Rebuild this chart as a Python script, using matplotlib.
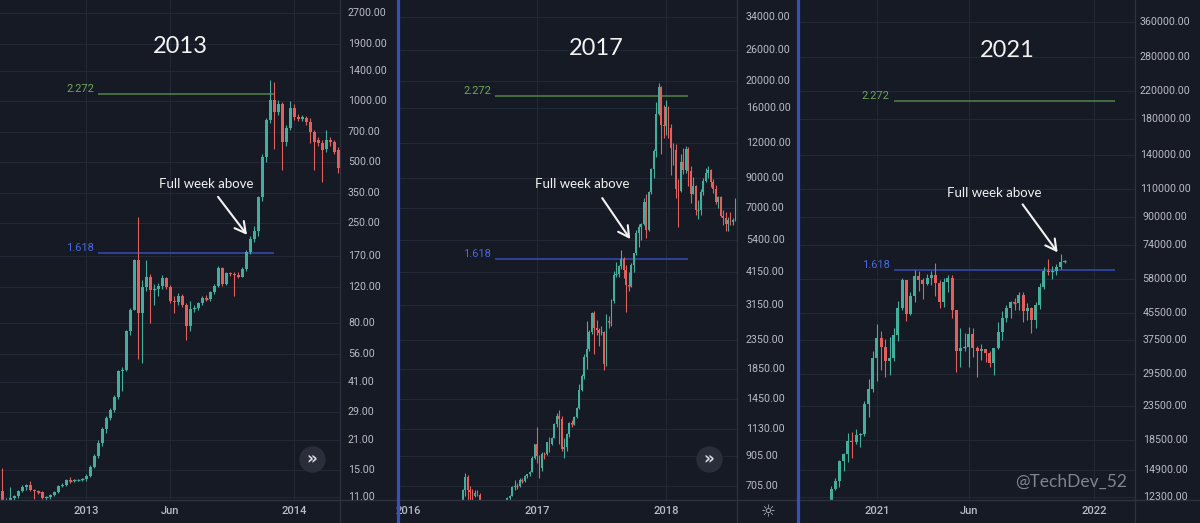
import numpy as np
import pandas as pd
import matplotlib
matplotlib.use("Agg")
import matplotlib.pyplot as plt
import matplotlib.dates as mdates
import matplotlib.transforms as mtransforms
from matplotlib.lines import Line2D

# ------------------------------------------------------------------ DATA
# Panel 1 : weekly candles, first week 2012-08-13
p1_start = "2012-08-13"
p1_open = [11.8, 10.2, 10.6, 10.9, 11.1, 11.8, 12.4, 12.6, 12.0, 11.8,
           11.7, 10.9, 11.0, 11.3, 11.7, 12.5, 12.7, 13.4, 13.3, 13.4,
           13.45, 13.5, 14.0, 15.6, 17.6, 20.5, 23.8, 27.0, 29.7, 34.4,
           46.0, 47.0, 72.5, 93.0, 163, 89, 120, 135, 116, 117,
           122, 133, 120, 103, 101, 109, 98, 77, 94, 95,
           100, 106, 105, 113, 122, 149, 125, 141, 139, 137,
           135, 148, 179, 207, 226, 334, 527, 803, 1008, 880,
           960, 625, 733, 915, 831, 810, 825, 785, 700, 640,
           620, 580, 640, 625, 571]
p1_high = [15.4, 10.9, 12.3, 11.3, 12.0, 12.6, 12.8, 13.2, 12.1, 12.0,
           11.8, 11.2, 11.4, 11.8, 12.6, 12.9, 13.5, 13.9, 13.5, 13.6,
           13.7, 14.3, 15.9, 18.0, 21.0, 24.5, 27.6, 30.5, 35.0, 47.0,
           48.5, 74.0, 95.0, 165, 266, 130, 163, 140, 125, 126,
           137, 134, 123, 108, 112, 111, 100, 102, 98, 101,
           108, 110, 115, 124, 152, 151, 143, 143, 143, 142,
           150, 182, 215, 240, 340, 545, 820, 1265, 1240, 1010,
           980, 760, 1000, 960, 860, 850, 840, 820, 715, 660,
           640, 720, 660, 640, 590]
p1_low = [7.1, 9.6, 10.5, 10.6, 10.9, 11.7, 12.0, 11.8, 10.8, 11.4,
          10.8, 10.7, 10.8, 11.1, 11.6, 12.3, 12.5, 12.9, 13.1, 13.2,
          13.2, 13.3, 13.9, 15.4, 17.2, 19.8, 22.8, 26.5, 29.0, 33.5,
          37.0, 46.0, 70.0, 92.0, 53.0, 50.6, 115, 80, 98, 108,
          118, 118, 100, 89, 98, 96, 65.8, 73, 90, 93,
          98, 103, 103, 111, 120, 122, 123, 136, 109, 133,
          134, 144, 175, 200, 215, 320, 500, 780, 580, 850,
          455, 600, 720, 800, 790, 790, 760, 620, 455, 600,
          397, 560, 600, 545, 440]
p1_close = [10.2, 10.6, 10.9, 11.1, 11.8, 12.4, 12.6, 12.0, 11.8, 11.7,
            10.9, 11.0, 11.3, 11.7, 12.5, 12.7, 13.4, 13.3, 13.4, 13.45,
            13.5, 14.0, 15.6, 17.6, 20.5, 23.8, 27.0, 29.7, 34.4, 46.0,
            47.0, 72.5, 93.0, 163, 89, 120, 135, 116, 117, 122,
            133, 120, 103, 101, 109, 98, 77, 94, 95, 100,
            106, 105, 113, 122, 149, 125, 141, 139, 137, 135,
            148, 178, 207, 226, 334, 527, 803, 1008, 880, 960,
            625, 733, 915, 831, 810, 830, 785, 700, 625, 620,
            571, 640, 625, 560, 465]
p1_yticks = [2700, 1900, 1400, 1000, 700, 500, 350, 250, 170, 120, 80, 56, 41, 29, 21, 15, 11]
p1_xtick_dates = ["2013-01-07", "2013-06-03", "2014-01-06"]
p1_xtick_labels = ["2013", "Jun", "2014"]
p1_fib_levels = [1079, 177.5]
p1_fib_span = ["2013-01-28", "2013-12-02"]
p1_marked_week = "2013-10-21"
p1_title = "2013"

# Panel 2 : weekly candles, first week 2016-06-06
p2_start = "2016-06-06"
p2_open = [575, 680, 760, 680, 670, 650, 665, 655, 625, 590,
           585, 580, 573, 607, 608, 607, 600, 612, 617, 640,
           650, 700, 705, 703, 740, 735, 765, 775, 790, 890,
           995, 900, 820, 920, 915, 1010, 1000, 1050, 1180, 1260,
           1230, 960, 970, 1080, 1190, 1180, 1250, 1340, 1560, 1750,
           2050, 2190, 2520, 2950, 2600, 2550, 2500, 2510, 1930, 2750,
           2730, 3260, 4050, 4080, 4350, 4600, 4220, 3700, 3680, 4400,
           4820, 5710, 6000, 6150, 7370, 5850, 8000, 9700, 11250, 15250,
           19100, 14000, 13800, 16200, 13600, 11500, 11300, 8200, 8100, 10300,
           9600, 11400, 9500, 7900, 8400, 6900, 6920, 8000, 8800, 9400,
           9600, 8700, 8250, 7350, 7700, 6550, 6450, 6150, 6350, 6250, 6350]
p2_high = [690, 785, 770, 705, 690, 680, 680, 665, 630, 600,
           595, 590, 615, 630, 612, 610, 614, 620, 642, 655,
           705, 740, 725, 750, 750, 770, 780, 795, 900, 1000,
           1150, 910, 930, 930, 1015, 1060, 1060, 1190, 1290, 1320,
           1260, 1050, 1090, 1200, 1220, 1260, 1350, 1640, 1780, 2100,
           2760, 2570, 2980, 2990, 2770, 2600, 2650, 2540, 2930, 2870,
           3300, 4180, 4480, 4390, 4980, 4700, 4400, 4120, 4470, 4830,
           5850, 6150, 6200, 7600, 7900, 8100, 9750, 11400, 16900, 19700,
           19300, 16500, 17200, 16300, 14100, 12000, 11900, 8900, 11000, 11500,
           11700, 11600, 9900, 9100, 8500, 7500, 8200, 9000, 9750, 9960,
           9700, 8900, 8500, 7750, 7750, 6900, 6800, 6500, 6800, 6450, 7600]
p2_low = [570, 650, 550, 620, 630, 645, 650, 615, 480, 575,
          565, 565, 568, 600, 600, 590, 596, 606, 612, 627,
          648, 680, 690, 700, 725, 728, 755, 765, 788, 880,
          850, 750, 800, 880, 910, 930, 990, 1045, 1150, 1000,
          940, 890, 940, 1060, 1150, 1170, 1240, 1330, 1550, 1710,
          1850, 2150, 2480, 2100, 2450, 2250, 2460, 1840, 1900, 2600,
          2650, 3210, 3980, 3980, 4250, 3950, 2970, 3520, 3650, 4150,
          4760, 5100, 5400, 6100, 5500, 5800, 7900, 9000, 10700, 15100,
          11000, 12500, 12800, 12500, 9200, 10000, 7600, 6000, 8000, 9300,
          9400, 8400, 7300, 7900, 6600, 6400, 6600, 7800, 8700, 9000,
          8350, 7950, 7250, 7050, 6500, 6100, 5800, 5800, 6100, 6100, 6300]
p2_close = [680, 760, 680, 670, 650, 665, 655, 625, 590, 585,
            580, 573, 607, 608, 607, 600, 612, 617, 640, 650,
            700, 705, 703, 740, 735, 765, 775, 790, 890, 995,
            900, 820, 920, 915, 1010, 1000, 1050, 1180, 1260, 1230,
            960, 970, 1080, 1190, 1180, 1250, 1340, 1560, 1750, 2050,
            2190, 2520, 2950, 2600, 2550, 2500, 2510, 1930, 2750, 2730,
            3260, 4050, 4080, 4350, 4600, 4220, 3700, 3680, 4400, 4820,
            5710, 6000, 6150, 7370, 5850, 8000, 9700, 11250, 15250, 19100,
            14000, 13800, 16200, 13600, 11500, 11300, 8200, 8100, 10300, 9600,
            11400, 9500, 7900, 8400, 6900, 6920, 8000, 8800, 9400, 9600,
            8700, 8250, 7350, 7700, 6550, 6450, 6150, 6350, 6250, 6350, 7400]
p2_yticks = [34000, 26000, 20000, 16000, 12000, 9000, 7000, 5400, 4150, 3150,
             2350, 1850, 1450, 1130, 905, 705]
p2_xtick_dates = ["2016-01-04", "2017-01-02", "2018-01-01"]
p2_xtick_labels = ["2016", "2017", "2018"]
p2_fib_levels = [17780, 4617]
p2_fib_span = ["2016-09-05", "2018-03-05"]
p2_marked_week = "2017-10-09"
p2_title = "2017"

# Panel 3 : weekly candles, first week 2020-10-19
p3_start = "2020-10-19"
p3_open = [11500, 13030, 13760, 15960, 16700, 18400, 18180, 19150, 19270, 23800,
           26500, 33000, 38150, 35800, 32300, 33100, 38800, 47100, 57400, 45200,
           51200, 59000, 57500, 55800, 58200, 59800, 56200, 49100, 56600, 58200,
           46400, 34700, 35600, 35800, 39100, 35500, 34700, 35300, 34250, 31800,
           35400, 39850, 43800, 47100, 49200, 48800, 51800, 46000, 47300, 43200,
           48200, 54700, 61500, 60900, 61300, 63300, 65500]
p3_high = [13350, 14100, 15970, 16800, 19400, 19500, 19900, 19400, 24300, 28400,
           34800, 41950, 40100, 37850, 38500, 40950, 49700, 58300, 57500, 52650,
           61800, 61200, 58400, 60000, 61200, 64850, 57500, 58400, 59600, 59500,
           46600, 40800, 39500, 41300, 41000, 36000, 36600, 35300, 34800, 35500,
           42600, 46000, 48100, 49400, 50500, 52900, 52900, 48850, 47400, 49200,
           56500, 62900, 67000, 63700, 64300, 69000, 66200]
p3_low = [11400, 12950, 13200, 14800, 15800, 16200, 18000, 17600, 19000, 21800,
          26000, 28100, 30300, 28850, 29200, 32300, 37400, 46600, 43000, 44900,
          49300, 53300, 50400, 55500, 55500, 51500, 47000, 47400, 52900, 43800,
          30000, 31100, 34800, 31000, 33300, 28800, 32700, 32100, 31000, 29300,
          35250, 37600, 42800, 43900, 46500, 46500, 42800, 43300, 39600, 40800,
          46900, 53900, 59800, 58000, 59400, 62300, 65000]
p3_close = [13030, 13760, 15960, 16700, 18400, 18180, 19150, 19270, 23800, 26500,
            33000, 38150, 35800, 32300, 33100, 38800, 47100, 57400, 45200, 51200,
            59000, 57500, 55800, 58200, 59800, 56200, 49100, 56600, 58200, 46400,
            34700, 35600, 35800, 39100, 35500, 34700, 35300, 34250, 31800, 35400,
            39850, 43800, 47100, 49200, 48800, 51800, 46000, 47300, 43200, 48200,
            54700, 61500, 60900, 61300, 63300, 65500, 65700]
p3_yticks = [360000, 280000, 220000, 180000, 140000, 110000, 90000, 74000, 58000,
             45500, 37500, 29500, 23500, 18500, 14900, 12300]
p3_xtick_dates = ["2021-01-04", "2021-06-07", "2022-01-03"]
p3_xtick_labels = ["2021", "Jun", "2022"]
p3_fib_levels = [205400, 61760]
p3_fib_span = ["2021-02-01", "2022-02-07"]
p3_marked_week = "2021-11-08"
p3_title = "2021"

fib_labels = ["2.272", "1.618"]
note_text = "Full week above"
watermark = "@TechDev_52"

# ------------------------------------------------------------------ STYLE
BG = "#161a25"
GRID = "#232836"
BORDER = "#2e3240"
UP = "#45ad9c"
DOWN = "#e35f5b"
AXTXT = "#b9bcc5"
SEP = "#3651bd"
FIB_LINE = ["#4e7c45", "#3447ad"]
FIB_TXT = ["#6fa758", "#4b67de"]

W, H = 1200, 523
PLOT_H = 500  # pixel height of the chart area (time axis strip below)

fig = plt.figure(figsize=(W / 100, H / 100), dpi=100)
fig.patch.set_facecolor(BG)

panels = [
    dict(start=p1_start, o=p1_open, h=p1_high, l=p1_low, c=p1_close,
         yticks=p1_yticks, xt=p1_xtick_dates, xl=p1_xtick_labels, xgrid=p1_xtick_dates,
         fib=p1_fib_levels, span=p1_fib_span, mark=p1_marked_week, title=p1_title,
         left=0, right=397, plot_right=340, origin="2013-01-07", origin_px=86,
         px_week=208 / 52, ylim=(10 ** 1.0279, 10 ** 3.4971), body_px=3.0,
         ylab_px=348, ylab_ha="left", title_px=(180, 53),
         tip=(-3, 1), tail=(-29, 38), note=(-41, 47), button=(312, 459)),
    dict(start=p2_start, o=p2_open, h=p2_high, l=p2_low, c=p2_close,
         yticks=p2_yticks, xt=p2_xtick_dates, xl=p2_xtick_labels, xgrid=p2_xtick_dates[1:],
         fib=p2_fib_levels, span=p2_fib_span, mark=p2_marked_week, title=p2_title,
         left=400, right=797, plot_right=737, origin="2017-01-02", origin_px=537,
         px_week=129 / 52, ylim=(10 ** 2.7976, 10 ** 4.5936), body_px=1.8,
         ylab_px=746, ylab_ha="left", title_px=(596, 55),
         tip=(-6, -9), tail=(-28, 41), note=(-48, 51), button=(709, 459)),
    dict(start=p3_start, o=p3_open, h=p3_high, l=p3_low, c=p3_close,
         yticks=p3_yticks, xt=p3_xtick_dates, xl=p3_xtick_labels, xgrid=p3_xtick_dates,
         fib=p3_fib_levels, span=p3_fib_span, mark=p3_marked_week, title=p3_title,
         left=800, right=1200, plot_right=1135, origin="2021-01-04", origin_px=877,
         px_week=217 / 52, ylim=(10 ** 4.0814, 10 ** 5.6232), body_px=3.0,
         ylab_px=1165, ylab_ha="center", title_px=(1007, 57),
         tip=(-3, 2), tail=(-35, 48), note=(-63, 55), button=None),
]

axes = []
for P in panels:
    width_px = P["right"] - P["left"]
    ax = fig.add_axes([P["left"] / W, (H - PLOT_H) / H, width_px / W, PLOT_H / H])
    axes.append(ax)
    ax.set_facecolor(BG)
    ax.set_yscale("log")
    for s in ax.spines.values():
        s.set_visible(False)

    ppd = P["px_week"] / 7.0
    o_num = mdates.date2num(np.datetime64(P["origin"]))
    ax.set_xlim(o_num + (P["left"] - P["origin_px"]) / ppd,
                o_num + (P["right"] - P["origin_px"]) / ppd)
    ax.set_ylim(*P["ylim"])
    plot_frac = (P["plot_right"] - P["left"]) / width_px

    # grid
    for v in P["yticks"]:
        ax.axhline(v, xmin=0, xmax=plot_frac, color=GRID, lw=0.8, zorder=0)
    for d in P["xgrid"]:
        ax.axvline(mdates.date2num(np.datetime64(d)), color=GRID, lw=0.8, zorder=0)

    # candles
    o = np.asarray(P["o"], float); h = np.asarray(P["h"], float)
    l = np.asarray(P["l"], float); c = np.asarray(P["c"], float)
    dates = pd.date_range(P["start"], periods=len(c), freq="7D")
    x = mdates.date2num(dates.values)
    col = np.where(c >= o, UP, DOWN)
    ax.vlines(x, l, h, colors=col, lw=0.8, zorder=3)
    bw = P["body_px"] / ppd
    lo = np.minimum(o, c); hi = np.maximum(o, c)
    ax.bar(x, hi - lo, bottom=lo, width=bw, color=col, lw=0, zorder=4)
    thin = np.log10(hi / lo) * PLOT_H / np.log10(P["ylim"][1] / P["ylim"][0]) < 1.2
    ax.hlines(c[thin], x[thin] - bw / 2, x[thin] + bw / 2, colors=col[thin], lw=1.0, zorder=4)

    # price scale
    ax.plot([plot_frac, plot_frac], [-(H - PLOT_H) / PLOT_H, 1], transform=ax.transAxes,
            color=BORDER, lw=0.9, clip_on=False, zorder=5)
    ax.plot([0, 1], [0, 0], transform=ax.transAxes, color=BORDER, lw=1.0,
            clip_on=False, zorder=5)
    bt = mtransforms.blended_transform_factory(ax.transAxes, ax.transData)
    lx = (P["ylab_px"] - P["left"]) / width_px
    for v in P["yticks"]:
        ax.text(lx, v, f"{v:.2f}", transform=bt, ha=P["ylab_ha"], va="center",
                fontsize=7.7, family="Roboto", color=AXTXT, clip_on=True, zorder=6)

    # time scale
    ax.set_yticks([]); ax.set_yticks([], minor=True)
    ax.set_xticks(mdates.date2num(pd.to_datetime(P["xt"]).values))
    ax.set_xticklabels(P["xl"], fontsize=8, family="Roboto", color=AXTXT, fontweight="medium")
    ax.set_xticks([], minor=True)
    ax.tick_params(axis="x", length=0, pad=4.5)

    # fib levels
    xs = mdates.date2num(pd.to_datetime(P["span"]).values)
    for i, lev in enumerate(P["fib"]):
        ax.hlines(lev, xs[0], xs[1], color=FIB_LINE[i], lw=1.2, zorder=2)
        ax.annotate(fib_labels[i], xy=(xs[0], lev), xytext=(-4, 2), textcoords="offset pixels",
                    ha="right", va="baseline", fontsize=8, family="Roboto",
                    color=FIB_TXT[i], zorder=6)

    # title
    tx = (P["title_px"][0] - P["left"]) / width_px
    ty = 1 - P["title_px"][1] / PLOT_H
    ax.text(tx, ty, P["title"], transform=ax.transAxes, ha="center", va="baseline",
            fontsize=17, family="Lato", color="#f2f2f2", zorder=7)

    # arrow + note to the marked week
    mi = list(dates).index(pd.Timestamp(P["mark"]))
    tip_tr = mtransforms.offset_copy(ax.transData, fig=fig, x=P["tip"][0], y=P["tip"][1],
                                     units="dots")
    ax.annotate("", xy=(x[mi], h[mi]), xycoords=tip_tr, xytext=P["tail"],
                textcoords="offset pixels",
                arrowprops=dict(arrowstyle="->,head_length=0.55,head_width=0.3",
                                color="#f2f2f2", lw=1.5, shrinkA=0, shrinkB=0,
                                mutation_scale=14), zorder=7)
    ax.annotate(note_text, xy=(x[mi], h[mi]), xycoords=tip_tr, xytext=P["note"],
                textcoords="offset pixels", ha="center", va="baseline",
                fontsize=9.5, family="Lato", color="#f2f2f2", zorder=7)

    # scroll button
    if P["button"] is not None:
        bx = (P["button"][0] - P["left"]) / width_px
        by = 1 - P["button"][1] / PLOT_H
        ax.plot([bx], [by], "o", ms=18, color="#2a2e3a", transform=ax.transAxes, zorder=6)
        ax.text(bx, by, "»", transform=ax.transAxes, ha="center", va="center",
                fontsize=12, fontweight="bold", family="DejaVu Sans", color="#d8dae0", zorder=7)

# watermark
ax3 = axes[2]
ax3.text((1071 - 800) / 400, 1 - 482 / PLOT_H, watermark, transform=ax3.transAxes,
         ha="center", va="center", fontsize=12.5, family="Lato", color="#80848f", zorder=7)

# settings icon on panel 2 time scale
fig.text(768 / W, 1 - 512 / H, "\u263c", ha="center", va="center", fontsize=12,
         family="DejaVu Sans", color=AXTXT)

# blue separators between panels
for sx in (397.5, 797.5):
    fig.add_artist(Line2D([sx / W, sx / W], [0, 1], transform=fig.transFigure,
                          color=SEP, lw=2.3))

fig.savefig("out.png", dpi=100, facecolor=BG)
